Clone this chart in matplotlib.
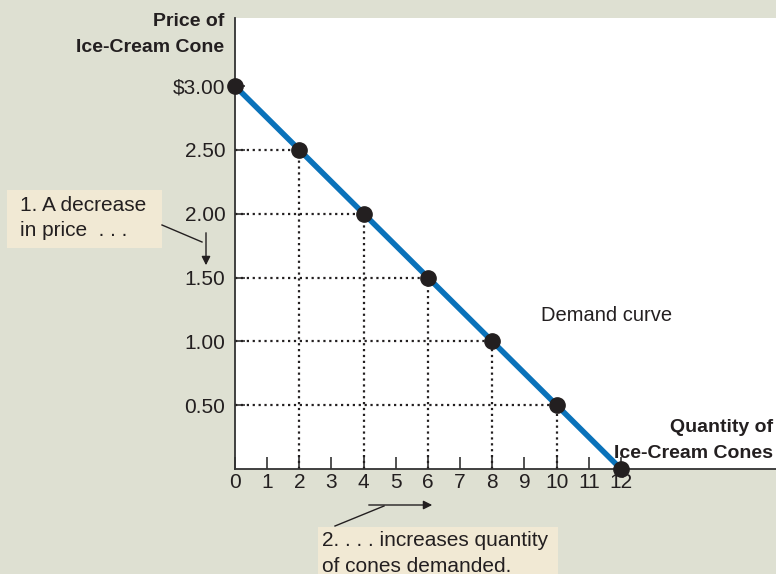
import matplotlib.pyplot as plt
from matplotlib.patches import Rectangle

# demand schedule
quantity = [0, 2, 4, 6, 8, 10, 12]
price = [3.00, 2.50, 2.00, 1.50, 1.00, 0.50, 0.00]

y_ticks = [0.5, 1.0, 1.5, 2.0, 2.5, 3.0]
y_labels = ['0.50', '1.00', '1.50', '2.00', '2.50', '$3.00']
x_ticks = list(range(0, 13))

bg = '#dee0d2'
box_color = '#f1e9d4'
line_color = '#0a72ba'
ink = '#231f20'

plt.rcParams['font.family'] = ['Liberation Sans', 'DejaVu Sans']

W, H = 776, 574
fig = plt.figure(figsize=(W / 100, H / 100), dpi=100, facecolor=bg)
ax = fig.add_axes([235 / W, (H - 469) / H, 1 - 235 / W, (469 - 18) / H])
ax.set_facecolor('white')

# dotted guides from each point to the axes
for q, p in zip(quantity[1:-1], price[1:-1]):
    ax.plot([0, q], [p, p], color=ink, lw=1.6, ls=':', zorder=2)
    ax.plot([q, q], [0, p], color=ink, lw=1.6, ls=':', zorder=2)

ax.plot(quantity, price, color=line_color, lw=4, zorder=3, clip_on=False)
ax.plot(quantity, price, 'o', color=ink, ms=11, zorder=4, clip_on=False)

ax.set_xlim(0, (W - 235) / ((621 - 235) / 12))
ax.set_ylim(0, (469 - 18) / ((469 - 86) / 3.0))

ax.set_xticks(x_ticks)
ax.set_xticklabels([str(v) for v in x_ticks], fontsize=15, color=ink)
ax.set_yticks(y_ticks)
ax.set_yticklabels(y_labels, fontsize=15, color=ink)
ax.tick_params(axis='x', direction='in', length=9, width=1.2, pad=3, color='#333333')
ax.tick_params(axis='y', direction='in', length=7, width=1.2, pad=7, color='#333333')

for s in ['top', 'right']:
    ax.spines[s].set_visible(False)
for s in ['left', 'bottom']:
    ax.spines[s].set_color('#333333')
    ax.spines[s].set_linewidth(1.3)

ax.text(9.5, 1.2, 'Demand curve', fontsize=14.5, color=ink, va='center')

def fx(x):
    return x / W

def fy(y):
    return 1 - y / H

# axis titles
fig.text(fx(224), fy(22), 'Price of', fontsize=14, fontweight='bold', ha='right', va='center', color=ink)
fig.text(fx(224), fy(48), 'Ice-Cream Cone', fontsize=14, fontweight='bold', ha='right', va='center', color=ink)
fig.text(fx(773), fy(427), 'Quantity of', fontsize=14, fontweight='bold', ha='right', va='center', color=ink)
fig.text(fx(773), fy(453), 'Ice-Cream Cones', fontsize=14, fontweight='bold', ha='right', va='center', color=ink)

# annotation 1
fig.add_artist(Rectangle((fx(7), fy(248)), fx(162) - fx(7), fy(190) - fy(248),
                         transform=fig.transFigure, facecolor=box_color, edgecolor='none'))
fig.text(fx(20), fy(205), '1. A decrease', fontsize=15, va='center', color=ink)
fig.text(fx(20), fy(231), 'in price  . . .', fontsize=15, va='center', color=ink)
fig.add_artist(plt.Line2D([fx(162), fx(202)], [fy(225), fy(242)], transform=fig.transFigure,
                          color=ink, lw=1))
ax.annotate('', xy=(206, H - 268), xytext=(206, H - 230), xycoords='figure pixels',
            textcoords='figure pixels',
            arrowprops=dict(arrowstyle='-|>', color=ink, lw=1, mutation_scale=13))

# annotation 2
fig.add_artist(Rectangle((fx(318), 0), fx(558) - fx(318), fy(527),
                         transform=fig.transFigure, facecolor=box_color, edgecolor='none'))
fig.text(fx(322), fy(541), '2. . . . increases quantity', fontsize=15, va='center', color=ink)
fig.text(fx(322), fy(566), 'of cones demanded.', fontsize=15, va='center', color=ink)
fig.add_artist(plt.Line2D([fx(335), fx(384)], [fy(526), fy(506)], transform=fig.transFigure,
                          color=ink, lw=1))
ax.annotate('', xy=(435, H - 505), xytext=(366, H - 505), xycoords='figure pixels',
            textcoords='figure pixels',
            arrowprops=dict(arrowstyle='-|>', color=ink, lw=1, mutation_scale=13))

fig.savefig('out.png', dpi=100, facecolor=bg)
